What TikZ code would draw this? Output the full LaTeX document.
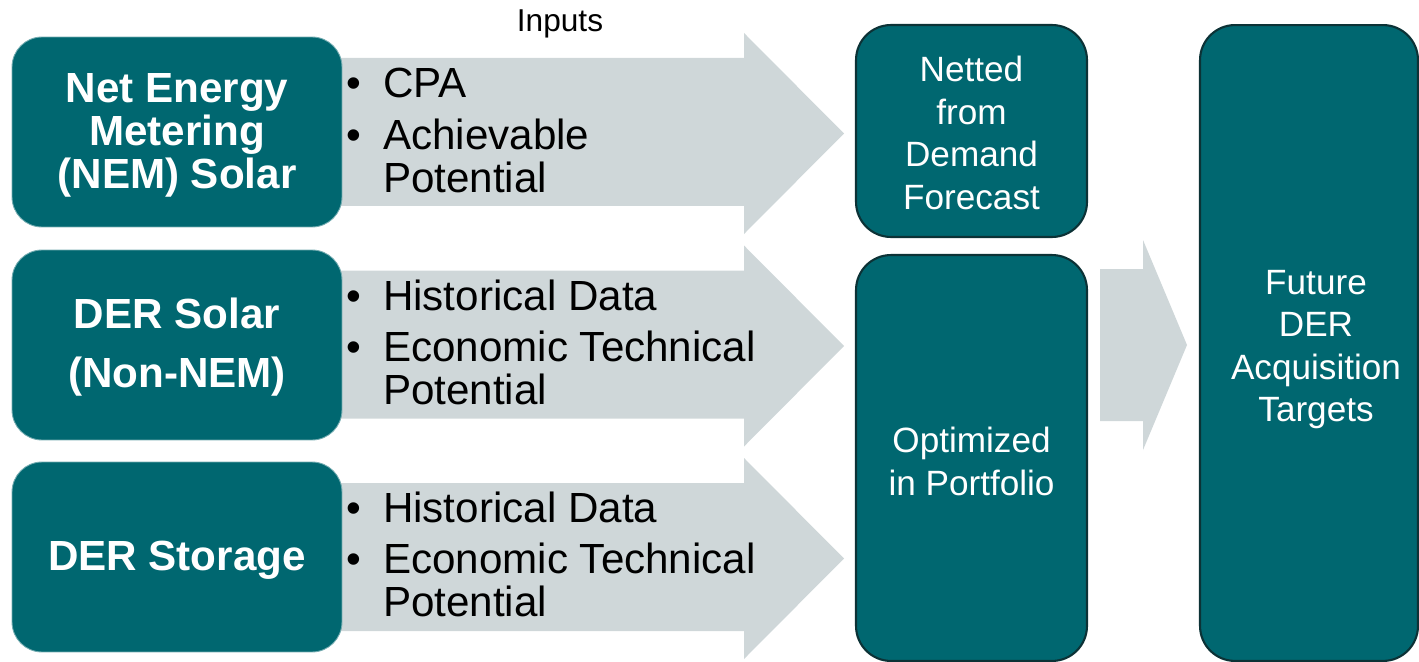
\documentclass[tikz,border=0pt]{standalone}
\usepackage{fontspec}
\setmainfont{Liberation Sans}
\definecolor{tealfill}{RGB}{0,103,112}
\definecolor{darkedge}{RGB}{12,50,54}
\definecolor{agray}{RGB}{207,215,217}
\begin{document}
\begin{tikzpicture}[x=0.02cm,y=-0.02cm,
  srcbox/.style={rounded corners=0.6cm, fill=tealfill, draw=tealfill!55!white, line width=0.5pt,
    minimum width=6.6cm, minimum height=3.8cm, inner sep=0pt},
  srctext/.style={inner sep=0pt, text=white, font=\bfseries\fontsize{24}{24.5}\selectfont, align=center},
  outbox/.style={rounded corners=0.7cm, fill=tealfill, draw=darkedge, line width=1.2pt, inner sep=0pt},
  outtext/.style={inner sep=0pt, text=white, font=\fontsize{20}{24.2}\selectfont, align=center},
  bul/.style={inner sep=0pt, anchor=base west, font=\fontsize{24}{24.7}\selectfont, text=black},
  blockarrow/.style={fill=agray}]
\useasboundingbox (0,0) rectangle (1419,662);

% block arrows
\fill[blockarrow] (330,58) -- (744,58) -- (744,33) -- (844,133.5) -- (744,234) -- (744,206) -- (330,206) -- cycle;
\fill[blockarrow] (330,270.5) -- (744,270.5) -- (744,245.5) -- (844,346) -- (744,446.5) -- (744,418.5) -- (330,418.5) -- cycle;
\fill[blockarrow] (330,483) -- (744,483) -- (744,458) -- (844,558.5) -- (744,659) -- (744,631) -- (330,631) -- cycle;
\fill[blockarrow] (1100,269) -- (1143,269) -- (1143,240) -- (1187,345) -- (1143,450) -- (1143,421) -- (1100,421) -- cycle;

% source boxes
\node[srcbox] (nem) at (177,132) {};
\node[srcbox] (dersolar) at (177,345) {};
\node[srcbox] (derstorage) at (177,557) {};
\node[srctext] (nemtxt) at ([shift={(0,3)}]nem.center) {Net Energy\\Metering\\(NEM) Solar};
\node[srctext] (dersolartxt) at ([shift={(0,2)}]dersolar.center) {DER Solar\\[9pt](Non-NEM)};
\node[srctext] (derstoragetxt) at ([shift={(0,3)}]derstorage.center) {DER Storage};

% inputs
\node[inner sep=0pt, anchor=base, font=\fontsize{18}{20}\selectfont] (inputs) at (560,32) {Inputs};
\node[bul] (in1) at (346,98) {\begin{tabular}[t]{@{}l@{\hspace{12.5pt}}l@{}}\textbullet & CPA\\[4.3pt] \textbullet & Achievable\\ & Potential\end{tabular}};
\node[bul] (in2) at (346,310) {\begin{tabular}[t]{@{}l@{\hspace{12.5pt}}l@{}}\textbullet & Historical Data\\[4.3pt] \textbullet & Economic Technical\\ & Potential\end{tabular}};
\node[bul] (in3) at (346,522) {\begin{tabular}[t]{@{}l@{\hspace{12.5pt}}l@{}}\textbullet & Historical Data\\[4.3pt] \textbullet & Economic Technical\\ & Potential\end{tabular}};

% output boxes
\node[outbox, minimum width=4.62cm, minimum height=4.24cm] (netted) at (971.5,131) {};
\node[outbox, minimum width=4.62cm, minimum height=8.12cm] (optim) at (971.5,458) {};
\node[outbox, minimum width=4.36cm, minimum height=12.72cm] (future) at (1309,343) {};
\node[outtext] (nettedtxt) at ([shift={(0,2)}]netted.center) {Netted\\from\\Demand\\Forecast};
\node[outtext] (optimtxt) at ([shift={(0,3.5)}]optim.center) {Optimized\\in Portfolio};
\node[outtext] (futuretxt) at ([shift={(7,6.5)}]future.center) {Future\\DER\\Acquisition\\Targets};
\end{tikzpicture}
\end{document}
